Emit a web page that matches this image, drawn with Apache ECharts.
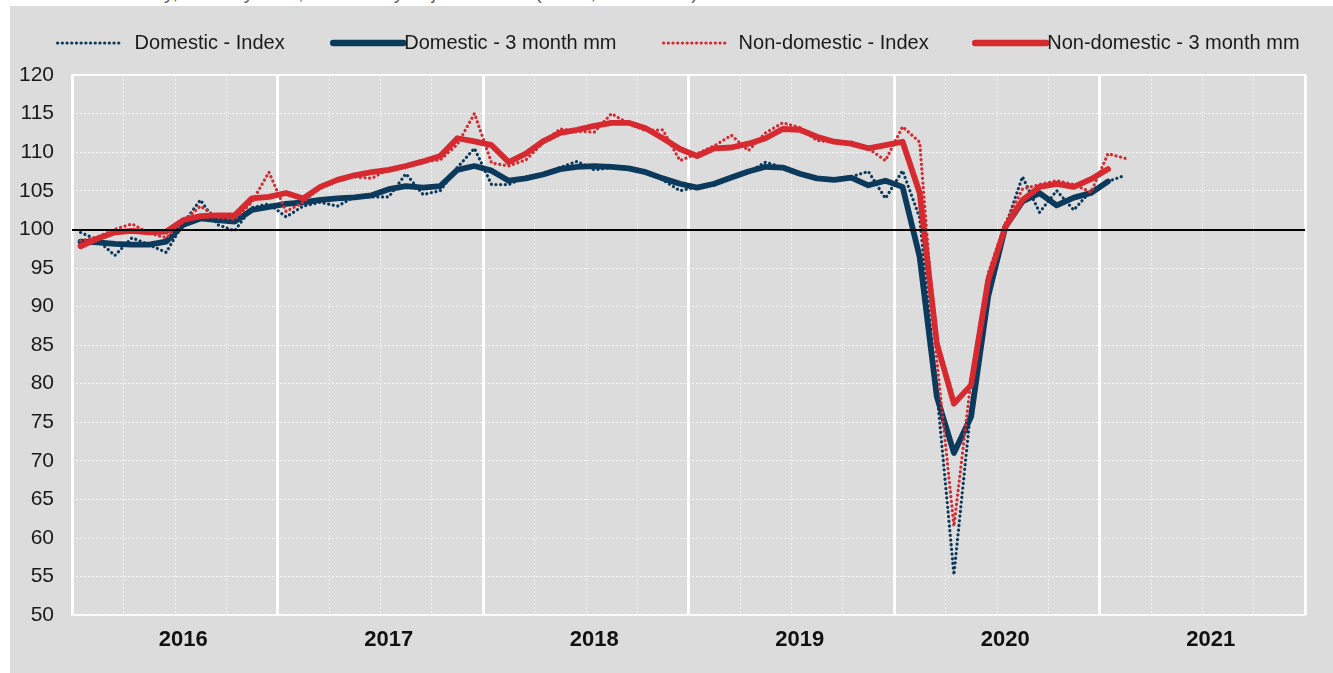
<!DOCTYPE html>
<html><head><meta charset="utf-8">
<script src="https://cdn.jsdelivr.net/npm/echarts@6/dist/echarts.min.js"></script>
<style>
html,body{margin:0;padding:0;background:#fff;overflow:hidden;width:1333px;height:673px}
#panel{position:absolute;left:10px;top:6px;width:1323px;height:667px;background:#dcdcdc}
#title{position:absolute;left:-2px;top:-19px;font:20px 'Liberation Sans Narrow','Liberation Sans',sans-serif;color:#666;white-space:nowrap}
#chart{position:absolute;left:0;top:0;width:1333px;height:673px}
</style></head><body>
<div id="title">Turnover in industry, monthly data, seasonally adjusted data (Index, 2015=100)</div>
<div id="panel"></div>
<div id="chart"></div>
<script>
const years = ['2016','2017','2018','2019','2020','2021'];
const monthNames = ['01','02','03','04','05','06','07','08','09','10','11','12'];
const categories = [];
years.forEach(y => monthNames.forEach(m => categories.push(y + '-' + m)));

const yTicks = {min: 50, max: 120, step: 5};

const domesticIndex = [
  99.6, 98.6, 96.6, 98.9, 98.0, 97.0, 100.8, 103.8, 100.6, 99.8, 102.8, 103.3,
  101.6, 103.0, 103.5, 103.0, 104.2, 104.2, 104.2, 107.2, 104.5, 105.0, 108.0, 110.5,
  105.8, 105.8, 106.8, 107.2, 108.0, 108.8, 107.7, 108.0, 108.0, 107.4, 106.4, 105.0,
  105.5, 105.7, 106.8, 107.4, 108.7, 108.0, 107.2, 106.6, 106.5, 106.8, 107.5, 104.0,
  107.6, 101.5, 79.0, 55.2, 77.0, 91.3, 100.3, 106.8, 102.2, 105.0, 102.5, 105.0,
  106.2, 107.0
];
const domesticMM = [
  98.4, 98.3, 98.1, 98.0, 98.0, 98.4, 100.6, 101.4, 101.2, 101.0, 102.5, 102.9,
  103.3, 103.5, 103.8, 104.0, 104.15, 104.4, 105.2, 105.6, 105.4, 105.6, 107.7, 108.2,
  107.6, 106.3, 106.6, 107.1, 107.8, 108.1, 108.2, 108.1, 107.9, 107.4, 106.6, 105.9,
  105.4, 105.9, 106.7, 107.5, 108.1, 108.0, 107.2, 106.6, 106.4, 106.7, 105.7, 106.3,
  105.5, 96.4, 78.3, 71.0, 75.7, 91.3, 100.3, 103.6, 104.7, 103.1, 104.1, 104.7,
  106.2
];
const nonDomesticIndex = [
  98.5, 99.0, 100.0, 100.7, 99.5, 98.9, 101.0, 103.0, 101.5, 101.3, 103.5, 107.4,
  102.3, 103.5, 105.5, 106.5, 106.8, 106.6, 107.8, 108.3, 108.8, 109.0, 111.0, 115.0,
  108.6, 108.2, 109.0, 111.2, 113.0, 112.7, 112.6, 115.0, 113.7, 112.8, 112.9, 108.9,
  109.8, 110.8, 112.2, 110.2, 112.5, 113.8, 113.2, 111.5, 111.3, 111.3, 110.5, 108.9,
  113.3, 111.3, 83.0, 61.5, 80.5, 94.3, 100.8, 105.2, 105.8, 106.3, 105.8, 104.8,
  109.8, 109.2
];
const nonDomesticMM = [
  97.8, 98.8, 99.6, 99.8, 99.6, 99.7, 101.2, 101.7, 101.8, 101.8, 104.0, 104.2,
  104.7, 104.0, 105.5, 106.4, 107.0, 107.4, 107.7, 108.2, 108.8, 109.5, 111.8, 111.4,
  110.9, 108.7, 109.8, 111.4, 112.5, 112.9, 113.4, 113.8, 113.8, 113.1, 111.8, 110.4,
  109.5, 110.5, 110.6, 111.1, 111.8, 113.0, 112.9, 112.0, 111.35, 111.1, 110.5, 110.9,
  111.35, 104.7, 85.2, 77.4, 79.8, 93.4, 100.3, 103.8, 105.5, 105.9, 105.5, 106.5,
  107.8
];

const BLUE = '#0c3a5c', RED = '#d62930';
const FONT = "'Liberation Sans Narrow','Arial Narrow','Liberation Sans',sans-serif";
const DOT = [0.1, 4.6];

function idxSeries(name, data, color, extra) {
  return Object.assign({
    name, type: 'line', data, symbol: 'none', showSymbol: false,
    lineStyle: {color, width: 3.2, type: DOT, cap: 'round'},
    itemStyle: {color}, emphasis: {disabled: true}
  }, extra || {});
}
function mmSeries(name, data, color) {
  return {
    name, type: 'line', data, symbol: 'none', showSymbol: false,
    lineStyle: {color, width: 5.8, cap: 'round', join: 'round'},
    itemStyle: {color}, emphasis: {disabled: true}
  };
}

const chart = echarts.init(document.getElementById('chart'), null, {renderer: 'canvas'});
const legendText = {fontFamily: FONT, fontSize: 20, color: '#1a1a1a'};
const hideSym = {color: 'rgba(0,0,0,0)', opacity: 0, borderWidth: 0};
function leg(name, left, w, pad, dotted) {
  return {data: [name], left, top: 33, padding: 0, itemWidth: w, itemHeight: 14,
    itemStyle: hideSym,
    lineStyle: dotted ? {width: 3.2, type: DOT, cap: 'round'} : {width: 6.5, type: 'solid', cap: 'round'},
    textStyle: Object.assign({padding: [0, 0, 0, pad]}, legendText)};
}
chart.setOption({
  backgroundColor: 'transparent',
  animation: false,
  legend: [
    leg('Domestic - Index', 56, 62, 10, true),
    leg('Domestic - 3 month mm', 330, 70, -4, false),
    leg('Non-domestic - Index', 662, 64, 6, true),
    leg('Non-domestic - 3 month mm', 972, 71, -4, false)
  ],
  grid: {left: 72, right: 28, top: 75, bottom: 58, show: true, borderColor: '#ffffff', borderWidth: 2, backgroundColor: 'transparent'},
  xAxis: [
    {
      type: 'category', data: categories, boundaryGap: true,
      axisLine: {show: false}, axisTick: {show: false},
      axisLabel: {interval: (i) => i % 12 === 6, formatter: (v) => v.slice(0, 4),
        fontFamily: FONT, fontWeight: 'bold', fontSize: 22, color: '#111', margin: 14},
      splitLine: {show: true, interval: (i) => i % 12 === 0, lineStyle: {color: '#ffffff', width: 3}}
    },
    {
      type: 'category', data: categories, boundaryGap: true, position: 'bottom',
      axisLine: {show: false}, axisTick: {show: false}, axisLabel: {show: false},
      splitLine: {show: true, interval: (i) => i % 3 === 0 && i % 12 !== 0, lineStyle: {color: '#f4f4f4', width: 1, type: [2, 2]}}
    }
  ],
  yAxis: {
    type: 'value', min: yTicks.min, max: yTicks.max, interval: yTicks.step,
    axisLine: {show: false}, axisTick: {show: false},
    axisLabel: {fontFamily: FONT, fontSize: 21, color: '#1a1a1a', margin: 18},
    splitLine: {show: true, lineStyle: {color: '#f4f4f4', width: 1, type: [2, 2]}}
  },
  series: [
    idxSeries('Domestic - Index', domesticIndex, BLUE, {
      markLine: {silent: true, symbol: 'none', label: {show: false},
        lineStyle: {color: '#000', width: 2, type: 'solid'}, data: [{yAxis: 100}]}
    }),
    mmSeries('Domestic - 3 month mm', domesticMM, BLUE),
    idxSeries('Non-domestic - Index', nonDomesticIndex, RED),
    mmSeries('Non-domestic - 3 month mm', nonDomesticMM, RED)
  ]
});
</script>
</body></html>
